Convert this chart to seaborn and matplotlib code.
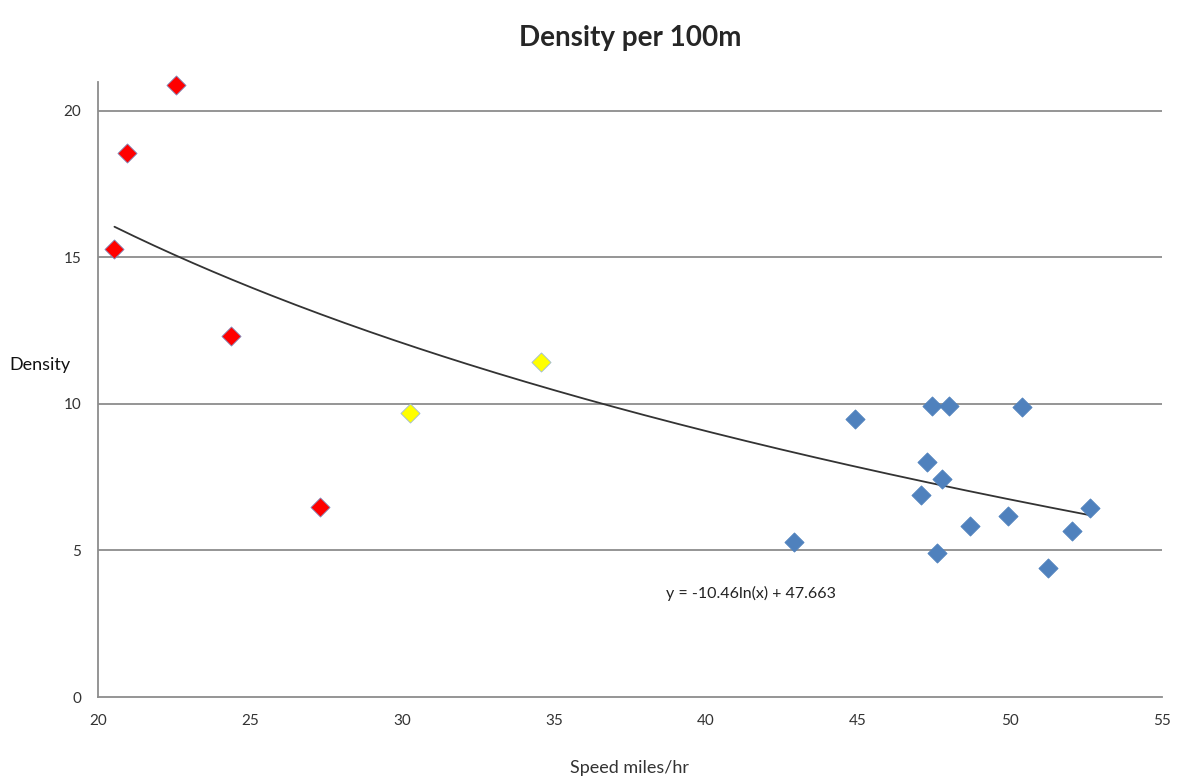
import numpy as np
import pandas as pd
import matplotlib
matplotlib.use("Agg")
import matplotlib.pyplot as plt
import seaborn as sns

# Speed (miles/hr) and density readings, grouped by marker colour
red_speed = [22.56, 20.94, 20.54, 24.37, 27.30]
red_density = [20.89, 18.58, 15.29, 12.32, 6.48]

yellow_speed = [34.56, 30.26]
yellow_density = [11.42, 9.70]

blue_speed = [47.44, 47.99, 50.40, 44.91, 47.29, 47.78, 47.08,
              52.63, 49.94, 48.69, 52.06, 42.89, 47.59, 51.27]
blue_density = [9.94, 9.94, 9.89, 9.48, 8.02, 7.44, 6.88,
                6.44, 6.19, 5.85, 5.67, 5.30, 4.90, 4.41]

# log trendline coefficients (from the chart)
trend_a = -10.46
trend_b = 47.663
trend_label = "y = -10.46ln(x) + 47.663"

x_ticks = [20, 25, 30, 35, 40, 45, 50, 55]
y_ticks = [0, 5, 10, 15, 20]

sns.set_style("white")
plt.rcParams['font.family'] = ['Lato', 'DejaVu Sans']

df = pd.concat([
    pd.DataFrame({"speed": red_speed, "density": red_density, "group": "red"}),
    pd.DataFrame({"speed": yellow_speed, "density": yellow_density, "group": "yellow"}),
    pd.DataFrame({"speed": blue_speed, "density": blue_density, "group": "blue"}),
], ignore_index=True)

fig = plt.figure(figsize=(11.77, 7.8), dpi=100)
ax = fig.add_axes([0.0833, 0.1064, 0.9037, 0.7889])

grid_col = "#8c8c8c"
for y in y_ticks[1:]:
    ax.axhline(y, color=grid_col, lw=1.3, zorder=1)

# trendline over the data range
xs = np.linspace(df["speed"].min(), df["speed"].max(), 200)
trend = pd.DataFrame({"speed": xs, "density": trend_a * np.log(xs) + trend_b})
sns.lineplot(data=trend, x="speed", y="density", color="#333333", lw=1.3, ax=ax, zorder=3)

styles = {"red": ("#ff0000", "#7f8fc0"),
          "yellow": ("#ffff00", "#9dbbd8"),
          "blue": ("#4f81bd", "#4f81bd")}
for g, (fc, ec) in styles.items():
    sub = df[df["group"] == g]
    sns.scatterplot(data=sub, x="speed", y="density", marker="D", s=95,
                    color=fc, edgecolor=ec, linewidth=0.6, ax=ax,
                    zorder=4, clip_on=False)

ax.set_xlim(20, 55)
ax.set_ylim(0, 21)
ax.set_xticks(x_ticks)
ax.set_yticks(y_ticks)

for side in ["top", "right"]:
    ax.spines[side].set_visible(False)
for side in ["left", "bottom"]:
    ax.spines[side].set_color(grid_col)
    ax.spines[side].set_linewidth(1.3)
ax.tick_params(axis="both", direction="out", length=6, width=1.2, color=grid_col,
               labelsize=11, labelcolor="#333333", pad=6)

ax.set_xlabel("Speed miles/hr", fontsize=13, color="#333333", labelpad=23)
ax.set_ylabel("Density", fontsize=13, color="#111111", rotation=0)
ax.yaxis.set_label_coords(-0.055, 0.527)
ax.set_title("Density per 100m", fontsize=20, fontweight="bold", pad=26)

ax.text(38.7, 3.55, trend_label, fontsize=11.5, color="#222222", ha="left", va="center")

fig.savefig("out.png", dpi=100)
